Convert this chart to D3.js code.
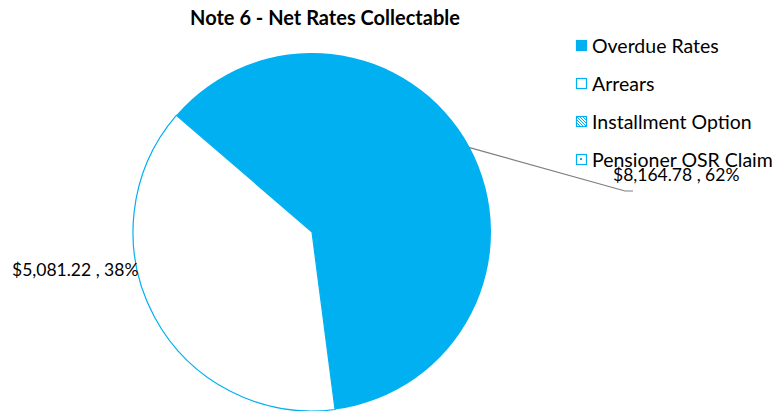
<!DOCTYPE html>
<html>
<head>
<meta charset="utf-8">
<script src="https://cdn.jsdelivr.net/npm/d3@7"></script>
<style>
  body { margin: 0; background: #fff; }
  svg { display: block; font-family: Lato, "Open Sans", sans-serif; }
</style>
</head>
<body>
<script>
// Data
const categories = ['Overdue Rates', 'Arrears', 'Installment Option', 'Pensioner OSR Claim'];
const amounts = [8164.78, 5081.22, 0, 0];
const pctLabels = ['62%', '38%', '0%', '0%'];

const width = 776, height = 411;
const blue = '#00B0F0';

const svg = d3.select('body').append('svg')
    .attr('width', width)
    .attr('height', height);

// Patterns for the legend swatches
const defs = svg.append('defs');
defs.append('pattern')
    .attr('id', 'pat-diag')
    .attr('width', 3).attr('height', 3)
    .attr('patternUnits', 'userSpaceOnUse')
    .append('path')
    .attr('d', 'M0,0 L3,3')
    .attr('stroke', blue).attr('stroke-width', 1);

// Title
svg.append('text')
    .attr('x', 325)
    .attr('y', 25)
    .attr('text-anchor', 'middle')
    .style('font-weight', 'bold')
    .style('font-size', '20px')
    .style('fill', '#000')
    .text('Note 6 - Net Rates Collectable');

// Pie
const cx = 312, cy = 232, radius = 179;
const startAngle = -49.3 * Math.PI / 180;

const data = categories.map((c, i) => ({ name: c, value: amounts[i], pct: pctLabels[i] }));

const pie = d3.pie()
    .value(d => d.value)
    .sort(null)
    .startAngle(startAngle)
    .endAngle(startAngle + 2 * Math.PI);

const arc = d3.arc().innerRadius(0).outerRadius(radius);

const g = svg.append('g').attr('transform', `translate(${cx},${cy})`);
const arcs = pie(data).filter(d => d.data.value > 0);

g.selectAll('path')
    .data(arcs)
    .join('path')
    .attr('d', arc)
    .attr('fill', (d, i) => i === 0 ? blue : '#fff')
    .attr('stroke', (d, i) => i === 0 ? 'none' : blue)
    .attr('stroke-width', 1.2);

// Labels
const fmt = d3.format(',.2f');
const labelFont = '17.5px';

// Overdue label with leader line
const a0 = arcs[0];
const mid0 = (a0.startAngle + a0.endAngle) / 2;
const lx = cx + Math.sin(mid0) * radius * 0.995;
const ly = cy - Math.cos(mid0) * radius * 0.995;
svg.append('polyline')
    .attr('points', `${lx},${ly} 625,191 633,191`)
    .attr('fill', 'none')
    .attr('stroke', '#7f7f7f')
    .attr('stroke-width', 1.2);

svg.append('text')
    .attr('x', 613)
    .attr('y', 181)
    .style('font-size', labelFont)
    .style('fill', '#000')
    .text(`$${fmt(a0.data.value)} , ${a0.data.pct}`);

const a1 = arcs[1];
svg.append('text')
    .attr('x', 12)
    .attr('y', 276)
    .style('font-size', labelFont)
    .style('fill', '#000')
    .text(`$${fmt(a1.data.value)} , ${a1.data.pct}`);

// Legend
const legend = svg.append('g').attr('transform', 'translate(576, 46)');
const items = legend.selectAll('g')
    .data(categories)
    .join('g')
    .attr('transform', (d, i) => `translate(0, ${i * 38})`);

items.append('rect')
    .attr('x', 0.5).attr('y', -5.5)
    .attr('width', 10).attr('height', 10)
    .attr('fill', (d, i) => i === 0 ? blue : i === 2 ? 'url(#pat-diag)' : '#fff')
    .attr('stroke', blue)
    .attr('stroke-width', 1.2);

items.filter((d, i) => i === 3).append('rect')
    .attr('x', 4).attr('y', -2)
    .attr('width', 2).attr('height', 2)
    .attr('fill', blue);

items.append('text')
    .attr('x', 16)
    .attr('y', 6.5)
    .style('font-size', '19.5px')
    .style('fill', '#000')
    .text(d => d);
</script>
</body>
</html>
